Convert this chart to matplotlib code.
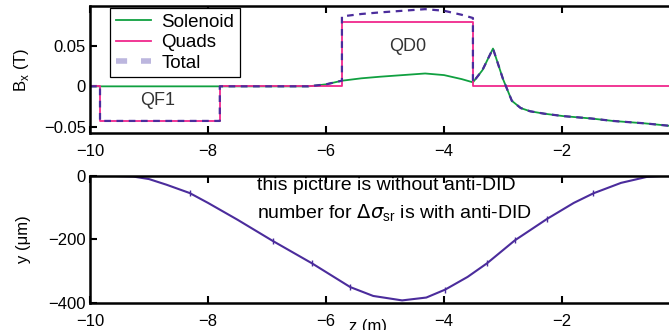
import numpy as np
import matplotlib
matplotlib.use("Agg")
import matplotlib.pyplot as plt

plt.rcParams['font.family'] = ['Liberation Sans', 'DejaVu Sans']

# ---- field along z (top panel) ----
z_field = [-10.0, -9.83, -9.83, -7.8, -7.8, -6.3, -6.0, -5.73, -5.73, -5.4, -5.08,
           -4.7, -4.32, -4.0, -3.7, -3.51, -3.51, -3.35, -3.17, -3.0, -2.85,
           -2.7, -2.54, -2.3, -1.98, -1.5, -1.14, -0.6, -0.19, 0.0]
solenoid = [0.0, 0.0, 0.0, 0.0, 0.0, 0.0, 0.0025, 0.007, 0.007, 0.010, 0.012,
            0.014, 0.016, 0.014, 0.009, 0.005, 0.005, 0.02, 0.047, 0.009, -0.018,
            -0.027, -0.031, -0.034, -0.037, -0.040, -0.043, -0.046, -0.049, -0.050]
quads = [0.0, 0.0, -0.043, -0.043, 0.0, 0.0, 0.0, 0.0, 0.080, 0.080, 0.080,
         0.080, 0.080, 0.080, 0.080, 0.080, 0.0, 0.0, 0.0, 0.0, 0.0,
         0.0, 0.0, 0.0, 0.0, 0.0, 0.0, 0.0, 0.0, 0.0]
total = [s + q for s, q in zip(solenoid, quads)]

# ---- orbit offset (bottom panel) ----
z_orbit = [-10.0, -9.6, -9.27, -9.0, -8.7, -8.31, -8.0, -7.5, -6.9, -6.24, -5.59,
           -5.2, -4.71, -4.3, -3.98, -3.6, -3.27, -2.8, -2.25, -1.8, -1.47,
           -1.0, -0.56, -0.3, 0.0]
y_orbit = [0, 0, -2, -10, -28, -54, -85, -138, -205, -275, -350,
           -378, -392, -383, -358, -318, -275, -203, -135, -85, -55,
           -22, -3, 0, 0]
marks = [5, 8, 9, 10, 14, 16, 17, 18, 20]

fig = plt.figure(figsize=(6.69, 3.30), dpi=100)
ax1 = fig.add_axes([0.1345, 0.597, 0.882, 0.385])
ax2 = fig.add_axes([0.1345, 0.082, 0.882, 0.385])

ax1.plot(z_field, solenoid, color='#10a040', lw=1.3, label='Solenoid')
ax1.plot(z_field, quads, color='#f0288c', lw=1.3, label='Quads')
ax1.plot(z_field, total, color='#4b2c9c', lw=1.6, ls=(0, (3, 2.5)), label='Total')
ax1.set_xlim(-10, 0)
ax1.set_ylim(-0.058, 0.1)
ax1.set_yticks([-0.05, 0, 0.05])
ax1.set_yticklabels(['\u22120.05', '0', '0.05'])
ax1.set_ylabel('B$_\\mathregular{x}$ (T)', fontsize=12)
ax1.yaxis.set_label_coords(-0.1, 0.5)
ax1.text(-8.86, -0.018, 'QF1', fontsize=13, color='#333333', ha='center', va='center')
ax1.text(-4.61, 0.05, 'QD0', fontsize=13, color='#333333', ha='center', va='center')
leg = ax1.legend(loc='upper left', bbox_to_anchor=(0.034, 0.985), fontsize=13.5,
                 fancybox=False, edgecolor='black', framealpha=1,
                 handlelength=1.9, handletextpad=0.55, borderpad=0.3,
                 labelspacing=0.18, borderaxespad=0)
leg.get_frame().set_linewidth(0.9)
tot_h = leg.legend_handles[2]
tot_h.set_color('#bcb6de')
tot_h.set_linewidth(4)
tot_h.set_dashes((2, 2.5))

ax2.plot(z_orbit, y_orbit, color='#4b2c9c', lw=1.5, marker='|', ms=4,
         markevery=marks)
ax2.set_xlim(-10, 0)
ax2.set_ylim(-400, 0)
ax2.set_yticks([-400, -200, 0])
ax2.set_yticklabels(['\u2212400', '\u2212200', '0'])
ax2.set_ylabel('y (\u03bcm)', fontsize=12)
ax2.yaxis.set_label_coords(-0.1, 0.5)
ax2.set_xlabel('z (m)', fontsize=12)
ax2.xaxis.set_label_coords(0.471, -0.13)
ax2.text(-7.17, -31, 'this picture is without anti-DID', fontsize=14,
         ha='left', va='center')
ax2.text(-7.17, -117, 'number for $\\Delta\\sigma_{\\mathregular{sr}}$ is with anti-DID',
         fontsize=14, ha='left', va='center')

for ax in (ax1, ax2):
    ax.set_xticks([-10, -8, -6, -4, -2])
    ax.set_xticklabels(['\u221210', '\u22128', '\u22126', '\u22124', '\u22122'])
    ax.tick_params(direction='in', length=5, width=1.5, labelsize=12,
                   top=True, right=True, pad=3)
    ax.tick_params(axis='x', pad=8)
    for sp in ax.spines.values():
        sp.set_linewidth(1.8)

fig.savefig('out.png', dpi=100)
